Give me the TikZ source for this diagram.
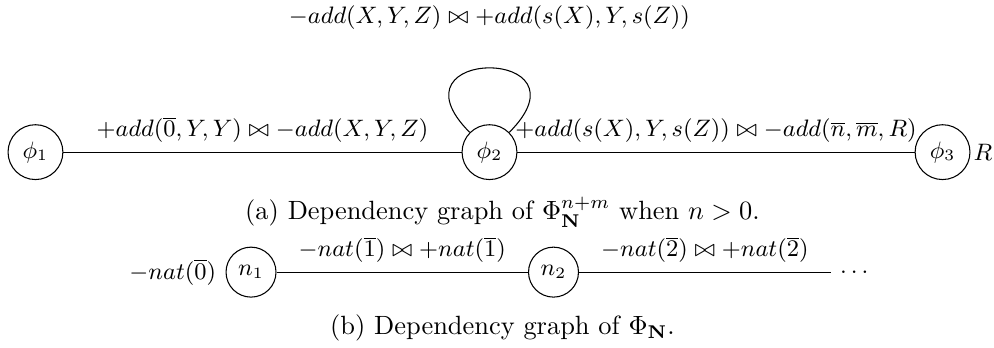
\documentclass[tikz,border=0pt]{standalone}
\usepackage{amsmath}
\usepackage{tikz}

\begin{document}
\begin{tikzpicture}[
    every node/.style={font=\small},
    st/.style={circle, draw, minimum size=0.73cm, inner sep=0pt},
    nst/.style={circle, draw, minimum size=0.665cm, inner sep=0pt},
    lbl/.style={midway, above},
    captext/.style={font=\normalsize}
  ]
  \useasboundingbox (0,0) rectangle (13.23,4.62);

  % (a) graph of Phi_N^{n+m}
  \node[st] (phi1) at (0.472, 2.595) {$\phi_1$};
  \node[st] (phi2) at (6.515, 2.595) {$\phi_2$};
  \node[st, label={[inner sep=1pt]right:$R$}] (phi3) at (12.545, 2.595) {$\phi_3$};

  \draw (phi1) -- (phi2)
        node[lbl] {$+add(\overline{0},Y,Y) \bowtie -add(X,Y,Z)$};
  \draw (phi2) -- (phi3)
        node[lbl] {$+add(s(X),Y,s(Z)) \bowtie -add(\overline{n},\overline{m},R)$};
  % self loop on phi2
  \draw (phi2) to[loop, out=135, in=45, min distance=1.62cm]
        node[above=3.9mm] {$-add(X,Y,Z) \bowtie +add(s(X),Y,s(Z))$} (phi2);

  \node[captext] (capa) at (6.688, 1.797)
        {(a) Dependency graph of $\Phi^{n+m}_{\mathbf{N}}$ when $n>0$.};

  % (b) graph of Phi_N
  \node[nst, label=left:{$-nat(\overline{0})$}] (n1) at (3.341, 0.998) {$n_1$};
  \node[nst] (n2) at (7.367, 0.998) {$n_2$};
  \node (dots) at (11.37, 0.998) {$\ldots$};

  \draw (n1) -- (n2)
        node[lbl] {$-nat(\overline{1}) \bowtie +nat(\overline{1})$};
  \draw (n2) -- (dots)
        node[lbl] {$-nat(\overline{2}) \bowtie +nat(\overline{2})$};

  \node[captext] (capb) at (6.688, 0.253) {(b) Dependency graph of $\Phi_{\mathbf{N}}$.};
\end{tikzpicture}
\end{document}
